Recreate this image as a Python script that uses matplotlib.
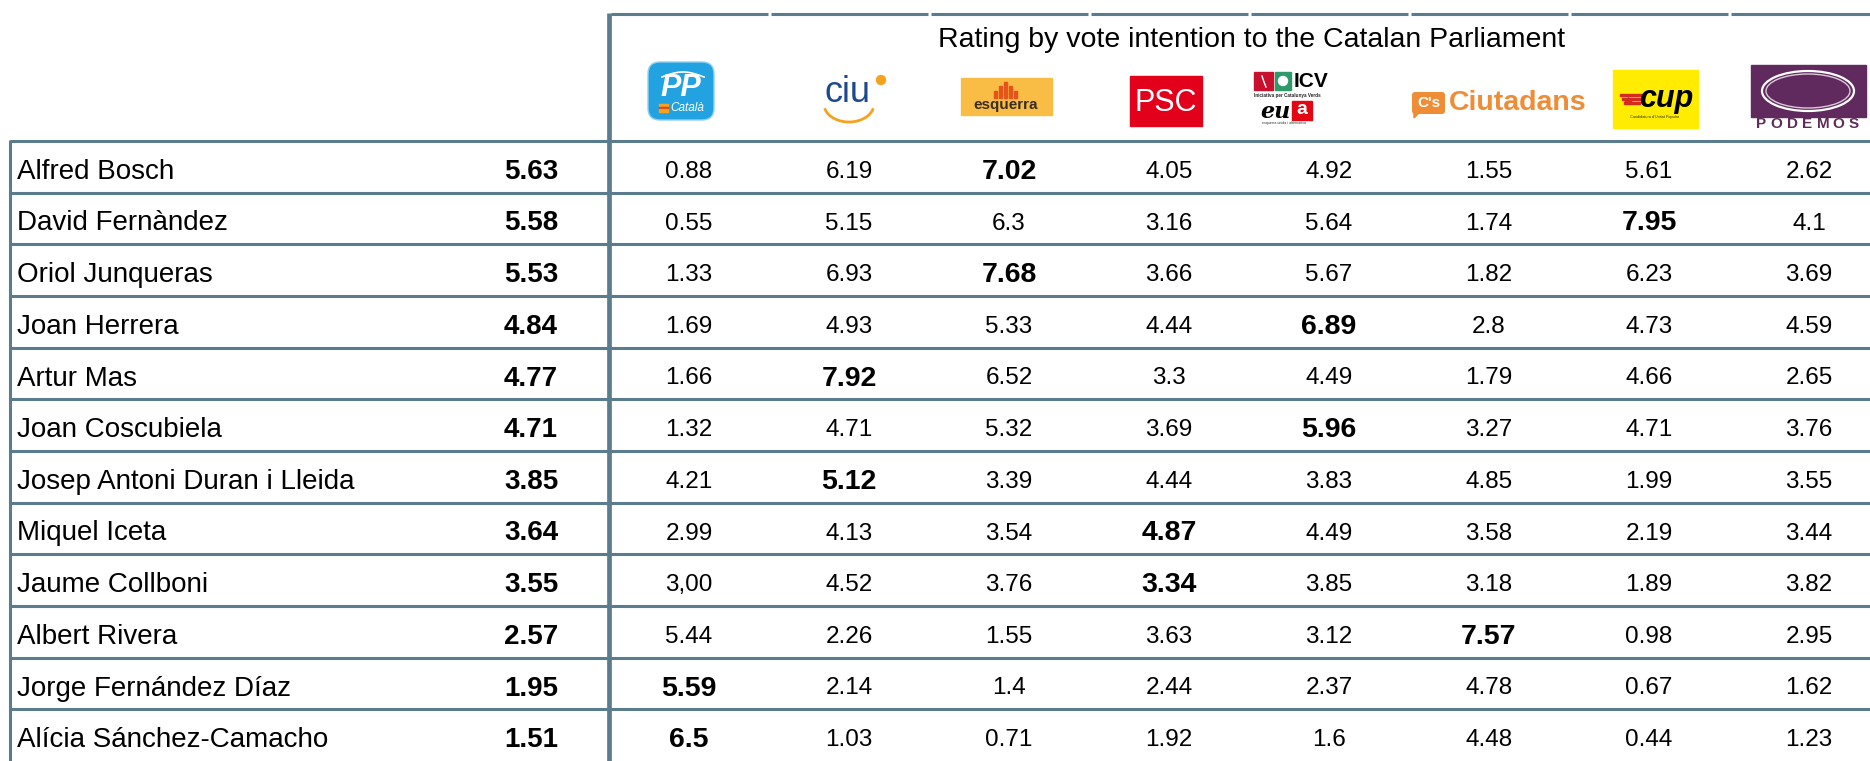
import numpy as np
import matplotlib
matplotlib.use("Agg")
import matplotlib.pyplot as plt
from matplotlib.patches import Rectangle, FancyBboxPatch, Ellipse, Polygon

plt.rcParams['font.family'] = ['Liberation Sans', 'DejaVu Sans']

title = "Rating by vote intention to the Catalan Parliament"
candidates = ["Alfred Bosch", "David Fernàndez", "Oriol Junqueras", "Joan Herrera",
              "Artur Mas", "Joan Coscubiela", "Josep Antoni Duran i Lleida", "Miquel Iceta",
              "Jaume Collboni", "Albert Rivera", "Jorge Fernández Díaz", "Alícia Sánchez-Camacho"]
overall = ["5.63", "5.58", "5.53", "4.84", "4.77", "4.71", "3.85", "3.64", "3.55", "2.57", "1.95", "1.51"]

parties = ["PP", "CiU", "ERC", "PSC", "ICV", "Cs", "CUP", "Podemos"]
pp = ["0.88", "0.55", "1.33", "1.69", "1.66", "1.32", "4.21", "2.99", "3,00", "5.44", "5.59", "6.5"]
ciu = ["6.19", "5.15", "6.93", "4.93", "7.92", "4.71", "5.12", "4.13", "4.52", "2.26", "2.14", "1.03"]
erc = ["7.02", "6.3", "7.68", "5.33", "6.52", "5.32", "3.39", "3.54", "3.76", "1.55", "1.4", "0.71"]
psc = ["4.05", "3.16", "3.66", "4.44", "3.3", "3.69", "4.44", "4.87", "3.34", "3.63", "2.44", "1.92"]
icv = ["4.92", "5.64", "5.67", "6.89", "4.49", "5.96", "3.83", "4.49", "3.85", "3.12", "2.37", "1.6"]
cs = ["1.55", "1.74", "1.82", "2.8", "1.79", "3.27", "4.85", "3.58", "3.18", "7.57", "4.78", "4.48"]
cup = ["5.61", "7.95", "6.23", "4.73", "4.66", "4.71", "1.99", "2.19", "1.89", "0.98", "0.67", "0.44"]
podemos = ["2.62", "4.1", "3.69", "4.59", "2.65", "3.76", "3.55", "3.44", "3.82", "2.95", "1.62", "1.23"]
own_party = ["ERC", "CUP", "ERC", "ICV", "CiU", "ICV", "CiU", "PSC", "PSC", "Cs", "PP", "PP"]

columns = [pp, ciu, erc, psc, icv, cs, cup, podemos]

# layout in pixels
W, H = 1870, 761
line_col = '#5b7b8f'
top_y = 14
head_bottom = 141
row_h = (H - head_bottom) / len(candidates)
sep_x = 609
col_w = 160
name_x = 17
rating_x = 531

fig = plt.figure(figsize=(W / 100, H / 100), dpi=100)
ax = fig.add_axes([0, 0, 1, 1])
ax.set_xlim(0, W)
ax.set_ylim(H, 0)
ax.axis('off')


def col_center(k):
    return sep_x + col_w * (k + 0.5)


# grid lines
for i in range(len(candidates)):
    y = head_bottom + i * row_h
    ax.plot([10, W], [y, y], color=line_col, lw=2.2, solid_capstyle='butt')
ax.plot([10, 10], [head_bottom - 1, H], color=line_col, lw=2.2, solid_capstyle='butt')
ax.plot([sep_x, sep_x], [top_y - 1, H], color=line_col, lw=3.4, solid_capstyle='butt')
for k in range(len(parties)):
    x0 = sep_x + k * col_w + 1.5
    ax.plot([x0, x0 + col_w - 3], [top_y, top_y], color=line_col, lw=2.2, solid_capstyle='butt')

ax.text(1252, 40, title, fontsize=20.5, ha='center', va='center', color='black')

# table body
for i, name in enumerate(candidates):
    yc = head_bottom + (i + 0.5) * row_h + 5
    ax.text(name_x, yc, name, fontsize=20, ha='left', va='center')
    ax.text(rating_x, yc, overall[i], fontsize=20, fontweight='bold', ha='center', va='center')
    for k, vals in enumerate(columns):
        if parties[k] == own_party[i]:
            ax.text(col_center(k), yc, vals[i], fontsize=20.5, fontweight='bold', ha='center', va='center')
        else:
            ax.text(col_center(k), yc, vals[i], fontsize=17.5, ha='center', va='center')


# party logos
def logo_pp(ax):
    ax.add_patch(FancyBboxPatch((652, 66), 58, 50, boxstyle="round,pad=4,rounding_size=12",
                                fc='#23a2e2', ec='#8fd0f2', lw=1))
    t = np.linspace(0, 1, 30)
    ax.plot(662 + 42 * t, 77 - 5 * np.sin(np.pi * t), color='white', lw=1.2)
    ax.text(681, 88, "PP", fontsize=22, fontweight='bold', fontstyle='italic', color='white',
            ha='center', va='center')
    for j, c in enumerate(['#f7a21b', '#e2401c', '#f7a21b']):
        ax.add_patch(Rectangle((659, 104 + j * 2.6), 9, 2.4, color=c))
    ax.text(670, 108, "Català", fontsize=8.5, fontstyle='italic', color='white', ha='left', va='center')


def logo_ciu(ax):
    ax.text(847, 93, "ciu", fontsize=26, color='#1d4a8c', ha='center', va='center')
    ax.add_patch(Ellipse((881, 80), 9, 9, color='#f5a21e'))
    t = np.linspace(0.1 * np.pi, 0.9 * np.pi, 40)
    ax.plot(849 + 25 * np.cos(t), 104 + 18 * np.sin(t), color='#f5a21e', lw=2)


def logo_erc(ax):
    ax.add_patch(Rectangle((961, 78), 91, 37, color='#f9bd45'))
    for j, h in enumerate([7, 12, 16, 12, 7]):
        ax.add_patch(Rectangle((994 + j * 5, 98 - h), 3.4, h, color='#e4541b'))
    ax.text(1006, 105, "esquerra", fontsize=11, fontweight='bold', color='#3b2d20',
            ha='center', va='center')


def logo_psc(ax):
    ax.add_patch(Rectangle((1130, 76), 72, 50, color='#e2001a'))
    ax.text(1166, 103, "PSC", fontsize=22, color='white', ha='center', va='center')


def logo_icv(ax):
    ax.add_patch(Rectangle((1254, 72), 19, 18, color='#c8102e'))
    ax.add_patch(Rectangle((1275, 72), 16, 18, color='#2e9a6a'))
    ax.plot([1262, 1264, 1266], [76, 82, 87], color='white', lw=1)
    ax.add_patch(Ellipse((1283, 81), 9, 9, color='white'))
    ax.text(1294, 81.5, "ICV", fontsize=15, fontweight='bold', color='black', ha='left', va='center')
    ax.text(1254, 95, "Iniciativa per Catalunya Verds", fontsize=3.3, fontweight='bold',
            color='#222222', ha='left', va='center')
    ax.text(1260, 112, "eu", fontsize=16, fontweight='bold', fontstyle='italic', color='black',
            ha='left', va='center', family='DejaVu Serif')
    ax.add_patch(Rectangle((1292, 101), 20, 19, color='#e30613'))
    ax.text(1302, 110, "a", fontsize=14, fontweight='bold', color='white', ha='center', va='center')
    ax.text(1262, 123, "esquerra unida i alternativa", fontsize=2.6, color='#333333',
            ha='left', va='center')


def logo_cs(ax):
    ax.add_patch(FancyBboxPatch((1413, 93), 31, 20, boxstyle="round,pad=1,rounding_size=3",
                                fc='#ef8c36', ec='none'))
    ax.add_patch(Polygon([[1414, 112], [1420, 112], [1414, 118]], color='#ef8c36'))
    ax.text(1428.5, 103, "C's", fontsize=11, fontweight='bold', color='white', ha='center', va='center')
    ax.text(1449, 103.5, "Ciutadans", fontsize=20.5, fontweight='bold', color='#ef8c36',
            ha='left', va='center')


def logo_cup(ax):
    ax.add_patch(Rectangle((1613, 70), 85, 58, color='#ffec00'))
    for j in range(3):
        ax.add_patch(Rectangle((1620 + j * 2, 94 + j * 4), 22 - j * 3, 1.8, color='#d52b1e'))
    ax.plot([1628], [101], marker='*', color='#d52b1e', ms=6)
    ax.text(1666, 99, "cup", fontsize=22, fontweight='bold', fontstyle='italic', color='black',
            ha='center', va='center')
    ax.text(1655, 117, "Candidatura d'Unitat Popular", fontsize=2.8, color='#333333',
            ha='center', va='center')


def logo_podemos(ax):
    ax.add_patch(Rectangle((1751, 65), 115, 52, color='#612a5e'))
    ax.add_patch(Ellipse((1808, 91), 92, 40, fc='none', ec='white', lw=1.6))
    ax.add_patch(Ellipse((1808, 91), 84, 34, fc='none', ec='#d9c9d8', lw=1.0))
    for j, ch in enumerate("PODEMOS"):
        ax.text(1761 + j * 15.5, 124.5, ch, fontsize=11, fontweight='bold', color='#5e2d5a',
                ha='center', va='center')


logo_pp(ax)
logo_ciu(ax)
logo_erc(ax)
logo_psc(ax)
logo_icv(ax)
logo_cs(ax)
logo_cup(ax)
logo_podemos(ax)

fig.savefig("out.png", dpi=100)
